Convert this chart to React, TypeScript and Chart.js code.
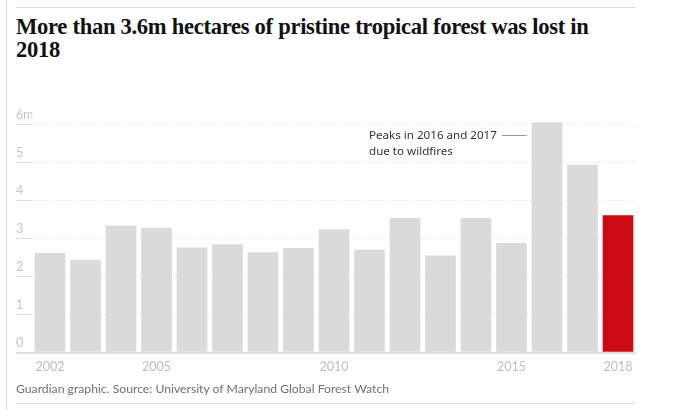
import { useEffect, useRef } from "react";
import { Chart, registerables } from "chart.js";

Chart.register(...registerables);

const years = ["2002", "2003", "2004", "2005", "2006", "2007", "2008", "2009", "2010", "2011", "2012", "2013", "2014", "2015", "2016", "2017", "2018"];
const lossMillionHa = [2.63, 2.45, 3.35, 3.29, 2.77, 2.86, 2.65, 2.76, 3.25, 2.71, 3.55, 2.56, 3.55, 2.89, 6.07, 4.95, 3.62];
const labeledYears = ["2002", "2005", "2010", "2015", "2018"];
const yTicks = [0, 1, 2, 3, 4, 5, 6];
const highlightYear = "2018";

const SANS = "Lato, 'Noto Sans', sans-serif";

export default function App() {
  const canvasRef = useRef<HTMLCanvasElement | null>(null);

  useEffect(() => {
    const canvas = canvasRef.current;
    if (!canvas) return;
    const chart = new Chart(canvas, {
      type: "bar",
      data: {
        labels: years,
        datasets: [
          {
            data: lossMillionHa,
            backgroundColor: years.map((y) => (y === highlightYear ? "#cc0a11" : "#dadada")),
            categoryPercentage: 1,
            barPercentage: 0.864,
          },
        ],
      },
      options: {
        animation: false,
        responsive: false,
        layout: { padding: { left: 16, right: 37.25, top: 17.4, bottom: 8.3 } },
        plugins: { legend: { display: false }, tooltip: { enabled: false } },
        scales: {
          x: {
            grid: { display: false, drawTicks: false },
            border: { display: false },
            ticks: {
              autoSkip: false,
              maxRotation: 0,
              padding: 7,
              color: "#bdbdbd",
              font: { family: SANS, size: 12.5 },
              callback: (_v: any, idx: number) => (labeledYears.includes(years[idx]) ? years[idx] : ""),
            },
          },
          y: {
            min: 0,
            max: 6.2,
            afterBuildTicks: (s: any) => {
              s.ticks = yTicks.map((v) => ({ value: v }));
            },
            afterFit: (s: any) => {
              s.width = 16.25;
            },
            grid: {
              color: (ctx: any) => (ctx.tick && ctx.tick.value === 0 ? "#dedede" : "#dcdcdc"),
              lineWidth: (ctx: any) => (ctx.tick && ctx.tick.value === 0 ? 2 : 1),
              drawTicks: true,
              tickLength: 16.25,
            },
            border: {
              display: false,
              dash: (ctx: any) => (ctx.tick && ctx.tick.value === 0 ? [] : [1, 2]),
            },
            ticks: {
              crossAlign: "far",
              labelOffset: -10,
              padding: 0,
              color: "#c4c4c4",
              font: { family: SANS, size: 12.5 },
              callback: (v: any) => (v === 6 ? "6m" : String(v)),
            },
          },
        },
      } as any,
    });
    return () => chart.destroy();
  }, []);

  return (
    <div style={{ position: "absolute", left: 0, top: 0, width: 673, height: 410, background: "#fff", overflow: "hidden" }}>
      <div style={{ position: "absolute", left: 6, top: 0, width: 1, height: 410, background: "#dcdcdc" }} />
      <div style={{ position: "absolute", left: 16, top: 7, width: 620, height: 1, background: "#dcdcdc" }} />
      <div
        style={{
          position: "absolute",
          left: 0,
          top: 100,
          width: 673,
          height: 290,
        }}
      >
        <canvas ref={canvasRef} width={673} height={290} style={{ width: 673, height: 290, display: "block" }} />
      </div>
      <div
        style={{
          position: "absolute",
          left: 16,
          top: 15,
          width: 610,
          fontFamily: "'Liberation Serif', serif",
          fontWeight: 700,
          fontSize: 22.6,
          lineHeight: "23px",
          color: "#121212",
          letterSpacing: -0.3,
        }}
      >
        More than 3.6m hectares of pristine tropical forest was lost in
        <br />
        2018
      </div>
      <div
        style={{
          position: "absolute",
          left: 369,
          top: 127,
          fontFamily: "'Noto Sans', sans-serif",
          fontSize: 11.6,
          lineHeight: "15.7px",
          color: "#333",
          whiteSpace: "nowrap",
        }}
      >
        Peaks in 2016 and 2017
        <br />
        due to wildfires
      </div>
      <div style={{ position: "absolute", left: 502, top: 134.5, width: 25, height: 1.5, background: "#999" }} />
      <div
        style={{
          position: "absolute",
          left: 16,
          top: 380.5,
          fontFamily: SANS,
          fontSize: 12.2,
          lineHeight: "16px",
          color: "#707070",
          whiteSpace: "nowrap",
        }}
      >
        Guardian graphic. Source: University of Maryland Global Forest Watch
      </div>
      <div style={{ position: "absolute", left: 16, top: 403, width: 620, height: 1, background: "#dcdcdc" }} />
    </div>
  );
}
